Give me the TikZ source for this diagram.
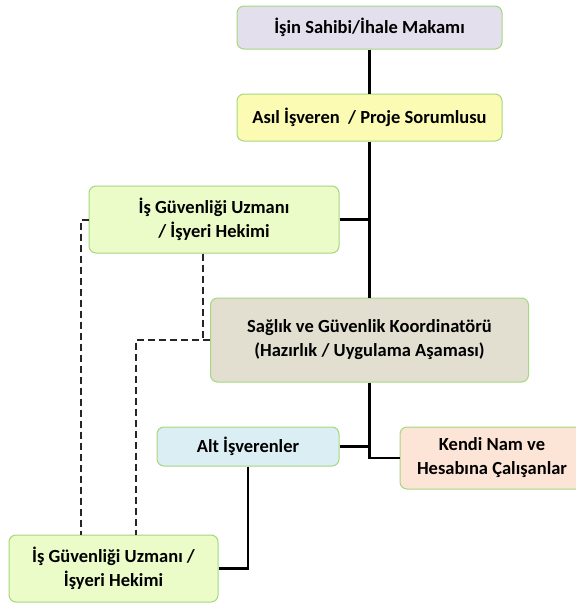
\documentclass[tikz,border=0pt]{standalone}
\usepackage{fontspec}
\setmainfont{Carlito}
\usetikzlibrary{positioning}

\definecolor{rimgreen}{HTML}{A6D77E}
\definecolor{lavender}{HTML}{E4DFEC}
\definecolor{paleyellow}{HTML}{FBFBB4}
\definecolor{palegreen}{HTML}{EBFCC9}
\definecolor{stone}{HTML}{E2DFD0}
\definecolor{paleblue}{HTML}{DAEEF3}
\definecolor{peach}{HTML}{FCE4D6}

\begin{document}
\begin{tikzpicture}[x=1pt,y=-1pt,
    orgbox/.style={rectangle,rounded corners=7pt,draw=rimgreen,line width=1pt,
      align=center,inner sep=0pt,font=\fontsize{18.5}{24}\selectfont\bfseries},
    solidline/.style={line width=2.6pt,black},
    dashline/.style={line width=2pt,black!85,dash pattern=on 7pt off 4pt}]
  \useasboundingbox (0,0) rectangle (576,603);
  \clip (0,0) rectangle (576,603);

  \node [orgbox,fill=lavender,minimum width=265pt,minimum height=43pt] (sahibi) at (369.5,27.5) {İşin Sahibi/İhale Makamı};
  \node [orgbox,fill=paleyellow,minimum width=265pt,minimum height=47pt] (asil) at (369.5,117.5) {Asıl İşveren~ / Proje Sorumlusu};
  \node [orgbox,fill=palegreen,minimum width=250pt,minimum height=67pt] (uzman) at (214,219.5) {İş Güvenliği Uzmanı\\/ İşyeri Hekimi};
  \node [orgbox,fill=stone,minimum width=318pt,minimum height=84pt] (koord) at (369.5,340) {Sağlık ve Güvenlik Koordinatörü\\(Hazırlık / Uygulama Aşaması)};
  \node [orgbox,fill=paleblue,minimum width=182pt,minimum height=39pt] (alt) at (248,446.5) {Alt İşverenler};
  \node [orgbox,fill=peach,minimum width=184pt,minimum height=62pt] (kendi) at (492,458) {Kendi Nam ve\\Hesabına Çalışanlar};
  \node [orgbox,fill=palegreen,minimum width=209pt,minimum height=67pt] (uzmanalt) at (113.5,568.5) {İş Güvenliği Uzmanı /\\İşyeri Hekimi};

  \draw [solidline] (sahibi.south) -- (asil.north);
  \draw [solidline] (asil.south) -- (koord.north);
  \draw [solidline] (uzman.east) -- (uzman.east -| asil.south);
  \draw [solidline] (koord.south) |- (kendi.west);
  \draw [solidline] (alt.east) -- (alt.east -| koord.south);
  \draw [solidline] (alt.south) |- (uzmanalt.east);

  \draw [dashline] (uzman.west) -| ([xshift=72pt]uzmanalt.north west);
  \draw [dashline] (koord.west) -| ([xshift=127pt]uzmanalt.north west);
  \draw [dashline] ([xshift=-11pt]uzman.south) -- ([xshift=-11pt]uzman.south |- koord.west);

\end{tikzpicture}
\end{document}
